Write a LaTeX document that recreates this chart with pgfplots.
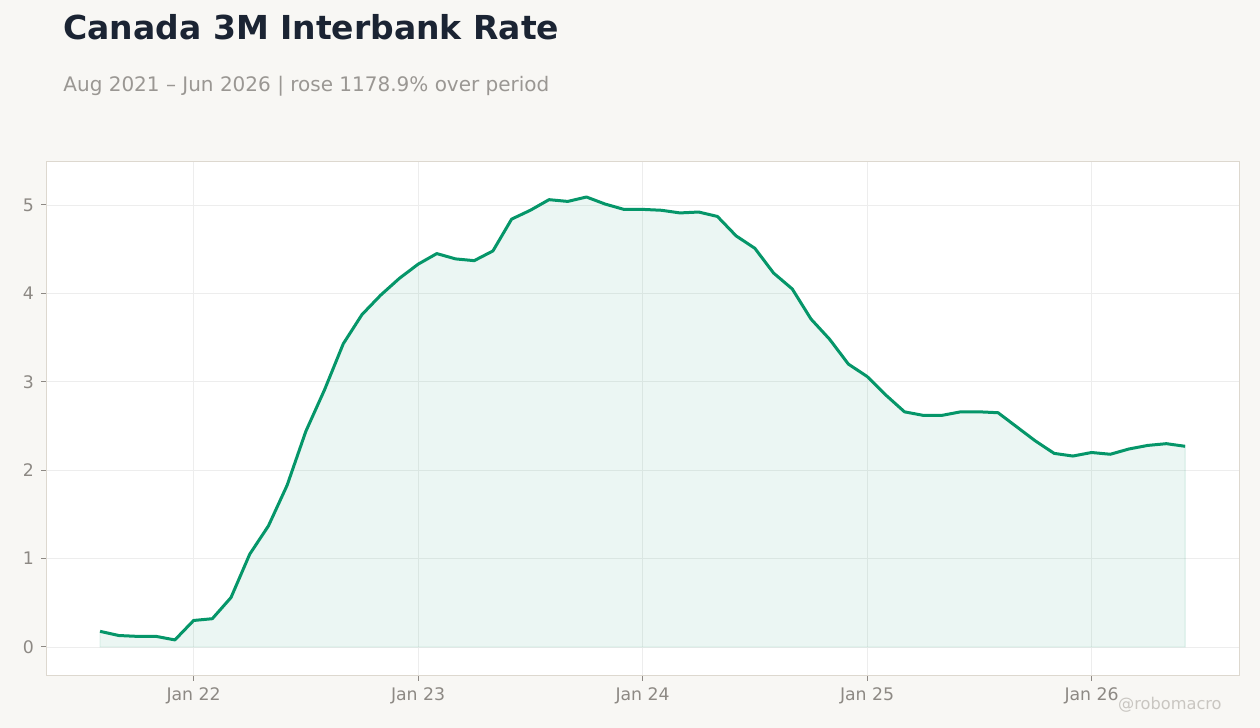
\documentclass[border=0pt]{standalone}
\usepackage{fontspec}
\setmainfont{DejaVu Sans}
\usepackage{pgfplots}
\usepackage{pgfplotstable}
\pgfplotsset{compat=1.18}

\definecolor{pagebg}{HTML}{F8F7F4}
\definecolor{titlecol}{HTML}{1B2433}
\definecolor{subcol}{HTML}{9A9793}
\definecolor{tickcol}{HTML}{8D8984}
\definecolor{framecol}{HTML}{DDD8CF}
\definecolor{gridcol}{HTML}{EDEDED}
\definecolor{linecol}{HTML}{059669}
\definecolor{markcol}{HTML}{C9C6C1}

% month index from Aug 2021 (0) to Jun 2026 (58), rate in %
\pgfplotstableread{
m rate
0 0.177
1 0.13
2 0.12
3 0.12
4 0.08
5 0.30
6 0.32
7 0.56
8 1.05
9 1.37
10 1.83
11 2.44
12 2.91
13 3.43
14 3.76
15 3.98
16 4.17
17 4.33
18 4.45
19 4.39
20 4.37
21 4.48
22 4.84
23 4.94
24 5.06
25 5.04
26 5.09
27 5.01
28 4.95
29 4.95
30 4.94
31 4.91
32 4.92
33 4.87
34 4.65
35 4.51
36 4.23
37 4.05
38 3.71
39 3.48
40 3.20
41 3.06
42 2.85
43 2.66
44 2.62
45 2.62
46 2.66
47 2.66
48 2.65
49 2.49
50 2.33
51 2.19
52 2.16
53 2.20
54 2.18
55 2.24
56 2.28
57 2.30
58 2.27
}\ratetable

\begin{document}
\begin{tikzpicture}
\fill[pagebg] (0,0) rectangle (630pt,364pt);
\node[anchor=base west, inner sep=0pt, text=titlecol]
  at (31.5pt,344pt) {\fontsize{16.5}{20}\selectfont\bfseries Canada 3M Interbank Rate};
\node[anchor=base west, inner sep=0pt, text=subcol]
  at (31.5pt,318pt) {\fontsize{10}{12}\selectfont Aug 2021 – Jun 2026 | rose 1178.9\% over period};
\begin{axis}[
  at={(23pt,26pt)}, anchor=south west,
  width=596.5pt, height=257pt, scale only axis,
  xmin=-2.89, xmax=60.88,
  ymin=-0.328, ymax=5.486,
  axis background/.style={fill=white},
  axis line style={framecol, line width=0.5pt},
  xtick={5,17,29,41,53},
  xticklabels={Jan 22,Jan 23,Jan 24,Jan 25,Jan 26},
  ytick={0,1,2,3,4,5},
  xtick pos=bottom, ytick pos=left,
  tick align=outside,
  major tick length=2.5pt,
  tick style={tickcol, line width=0.5pt},
  grid=major,
  grid style={gridcol, line width=0.4pt},
  ticklabel style={text=tickcol, font=\fontsize{8.65}{10}\selectfont},
  /pgf/number format/assume math mode=true,
]
\addplot[draw=linecol, draw opacity=0.15, fill=linecol, fill opacity=0.08]
  table[x=m, y=rate] {\ratetable} \closedcycle;
\addplot[linecol, line width=1.5pt, line join=round]
  table[x=m, y=rate] {\ratetable};
\end{axis}
\node[anchor=base east, inner sep=0pt, text=markcol]
  at (611pt,9pt) {\fontsize{8.1}{10}\selectfont @robomacro};
\end{tikzpicture}
\end{document}
